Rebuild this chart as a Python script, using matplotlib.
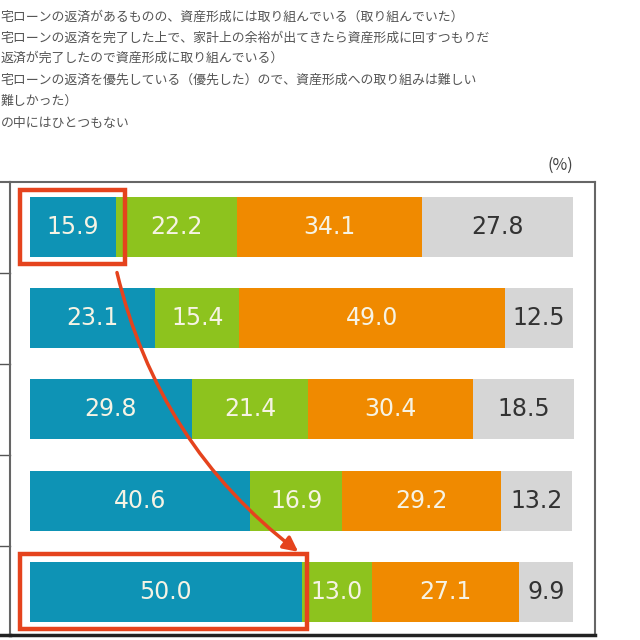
import numpy as np
import matplotlib.pyplot as plt
from matplotlib.patches import Rectangle, FancyArrowPatch

plt.rcParams['font.family'] = ['Noto Sans CJK JP', 'DejaVu Sans']

# Data (%), one row per bar, top to bottom
seg1 = [15.9, 23.1, 29.8, 40.6, 50.0]
seg2 = [22.2, 15.4, 21.4, 16.9, 13.0]
seg3 = [34.1, 49.0, 30.4, 29.2, 27.1]
seg4 = [27.8, 12.5, 18.5, 13.2, 9.9]
segments = [seg1, seg2, seg3, seg4]
colors = ['#0e93b5', '#8dc31e', '#f08a00', '#d6d6d6']
text_colors = ['#f6f3e4', '#f6f3e4', '#f6f3e4', '#333333']

legend_lines = [
    '宅ローンの返済があるものの、資産形成には取り組んでいる（取り組んでいた）',
    '宅ローンの返済を完了した上で、家計上の余裕が出てきたら資産形成に回すつもりだ',
    '返済が完了したので資産形成に取り組んでいる）',
    '宅ローンの返済を優先している（優先した）ので、資産形成への取り組みは難しい',
    '難しかった）',
    'の中にはひとつもない',
]

W, H = 640, 640
fig = plt.figure(figsize=(6.4, 6.4), dpi=100)
fig.patch.set_facecolor('white')

# Axes placed where the framed plot area is
ax_l, ax_r, ax_t, ax_b = 10, 595, 182, 635
ax = fig.add_axes([ax_l / W, 1 - ax_b / H, (ax_r - ax_l) / W, (ax_b - ax_t) / H])

px_per_unit = 543 / 100
xmin = -20 / px_per_unit
xmax = xmin + (ax_r - ax_l) / px_per_unit
ypx = 91.2
ytop = -(227 - ax_t) / ypx
ybot = ytop + (ax_b - ax_t) / ypx
ax.set_xlim(xmin, xmax)
ax.set_ylim(ybot, ytop)

y = np.arange(len(seg1))
left = np.zeros(len(seg1))
for vals, c, tc in zip(segments, colors, text_colors):
    vals = np.array(vals)
    ax.barh(y, vals, left=left, height=0.66, color=c, edgecolor='none')
    for yi, l, v in zip(y, left, vals):
        ax.text(l + v / 2, yi, f'{v:.1f}', ha='center', va='center',
                fontsize=17, color=tc, family='DejaVu Sans')
    left += vals

ax.set_xticks([])
ax.set_yticks([])
for s in ['top', 'right', 'left']:
    ax.spines[s].set_color('#666666')
    ax.spines[s].set_linewidth(1.5)
ax.spines['bottom'].set_color('#222222')
ax.spines['bottom'].set_linewidth(2.5)

# separators of the (cropped) label column on the left
x_left = xmin - ax_l / px_per_unit
for ys in [0.5, 1.5, 2.5, 3.5]:
    ax.plot([x_left, xmin], [ys, ys], color='#555555', lw=1, clip_on=False)
ax.plot([x_left, xmin], [ytop, ytop], color='#666666', lw=1.5, clip_on=False)
ax.plot([x_left, xmin], [ybot, ybot], color='#222222', lw=2.5, clip_on=False)

# red highlight boxes
red = '#e5431d'
pad_x = 10 / px_per_unit
ax.add_patch(Rectangle((-pad_x, 0 - 0.41), seg1[0] + 2 * pad_x - 0.3, 0.82,
                       fill=False, edgecolor=red, lw=3.2, clip_on=False, zorder=5))
ax.add_patch(Rectangle((-pad_x, 4 - 0.41), seg1[4] + 2 * pad_x - 0.8, 0.82,
                       fill=False, edgecolor=red, lw=3.2, clip_on=False, zorder=5))

# curved arrow between the two boxes
arrow = FancyArrowPatch((seg1[0], 0.47), (seg1[4] - 0.2, 3.58),
                        connectionstyle='arc3,rad=0.18', arrowstyle='-|>',
                        mutation_scale=22, color=red, lw=2.5, zorder=6)
ax.add_patch(arrow)

# unit label
fig.text(560 / W, 1 - 165 / H, '(%)', ha='center', va='center',
         fontsize=11.5, color='#444444')

# legend text (cropped at left in the source)
line_y = [17, 38, 58, 80, 101, 123]
for txt, ly in zip(legend_lines, line_y):
    fig.text(0.5 / W, 1 - ly / H, txt, ha='left', va='center',
             fontsize=9.3, color='#555555')

fig.savefig('out.png', dpi=100)
